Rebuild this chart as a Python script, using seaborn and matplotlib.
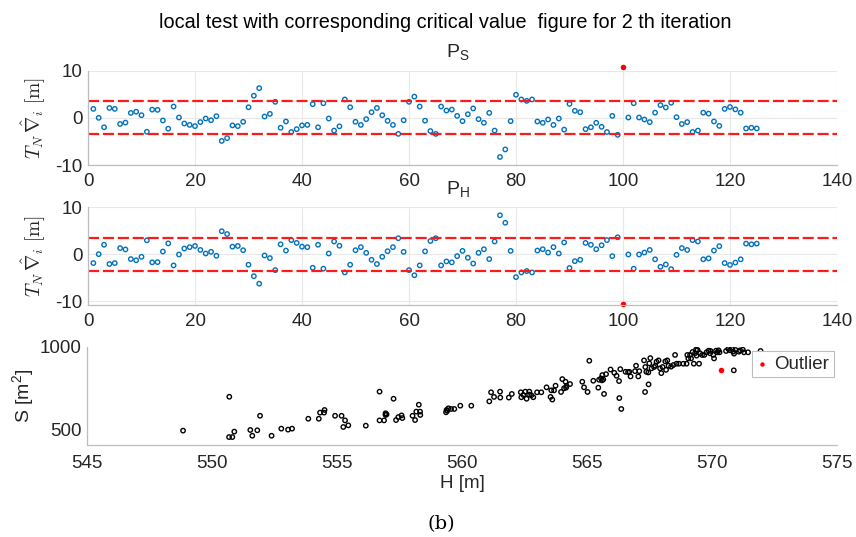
import numpy as np
import pandas as pd
import matplotlib
matplotlib.use('Agg')
import matplotlib.pyplot as plt
import seaborn as sns

obs_index = list(range(1, 126))
ps_test = [1.9, 0.0, -2.0, 2.1, 1.9, -1.3, -1.0, 1.05, 1.3, 0.56,
           -2.95, 1.75, 1.7, -0.56, -2.3, 2.4, 0.07, -1.2, -1.5, -1.75,
           -0.9, -0.14, -0.5, 0.35, -4.9, -4.3, -1.6, -1.75, -0.84, 2.25,
           4.7, 6.3, 0.28, 0.84, 3.4, -2.1, -0.77, -3.0, -2.4, -1.6,
           -1.5, 2.9, -2.0, 3.1, -0.14, -2.7, -1.8, 3.9, 2.25, -0.84,
           -1.5, -0.28, 1.2, 2.1, 0.56, -0.63, -1.5, -3.4, -0.5, 3.4,
           4.5, 2.4, -0.6, -2.8, -3.4, 2.4, 1.55, 1.75, 0.42, -0.7,
           0.77, 2.0, -0.28, -1.05, 1.05, -2.7, -8.3, -6.7, -0.7, 4.9,
           3.9, 3.6, 3.9, -0.77, -1.05, -0.35, -1.5, -0.14, -2.5, 2.95,
           1.5, 1.2, -2.4, -2.0, -1.05, -1.9, -3.0, 0.42, -3.6, 10.7,
           0.07, 3.1, 0.07, -0.35, -0.9, 1.1, 2.7, 2.2, 3.2, 0.14,
           -1.3, -0.9, -3.0, -2.7, 1.1, 0.9, -0.77, -1.7, 1.9, 2.3,
           1.8, 1.1, -2.25, -2.1, -2.25]
ph_test = [-1.9, 0.0, 2.0, -2.1, -1.9, 1.3, 1.0, -1.05, -1.3, -0.56,
           2.95, -1.75, -1.7, 0.56, 2.3, -2.4, -0.07, 1.2, 1.5, 1.75,
           0.9, 0.14, 0.5, -0.35, 4.9, 4.3, 1.6, 1.75, 0.84, -2.25,
           -4.7, -6.3, -0.28, -0.84, -3.4, 2.1, 0.77, 3.0, 2.4, 1.6,
           1.5, -2.9, 2.0, -3.1, 0.14, 2.7, 1.8, -3.9, -2.25, 0.84,
           1.5, 0.28, -1.2, -2.1, -0.56, 0.63, 1.5, 3.4, 0.5, -3.4,
           -4.5, -2.4, 0.6, 2.8, 3.4, -2.4, -1.55, -1.75, -0.42, 0.7,
           -0.77, -2.0, 0.28, 1.05, -1.05, 2.7, 8.3, 6.7, 0.7, -4.9,
           -3.9, -3.6, -3.9, 0.77, 1.05, 0.35, 1.5, 0.14, 2.5, -2.95,
           -1.5, -1.2, 2.4, 2.0, 1.05, 1.9, 3.0, -0.42, 3.6, -10.7,
           -0.07, -3.1, -0.07, 0.35, 0.9, -1.1, -2.7, -2.2, -3.2, -0.14,
           1.3, 0.9, 3.0, 2.7, -1.1, -0.9, 0.77, 1.7, -1.9, -2.3,
           -1.8, -1.1, 2.25, 2.1, 2.25]
outlier_index = 100
critical_value = 3.5

# terrain height H [m] against area S [m^2]
height_h = [548.83, 550.68, 550.67, 550.80, 550.88, 551.52, 551.60, 551.80, 551.91, 552.37,
            552.76, 553.03, 553.19, 553.84, 554.26, 554.31, 554.47, 554.49, 554.91, 555.17,
            555.31, 555.24, 555.44, 556.14, 556.69, 556.69, 556.87, 556.93, 556.93, 556.97,
            557.25, 557.35, 557.44, 557.57, 557.60, 558.01, 558.11, 558.16, 558.26, 558.32,
            558.31, 559.35, 559.37, 559.44, 559.40, 559.55, 559.68, 559.92, 560.36, 561.08,
            561.15, 561.27, 561.51, 561.52, 561.86, 561.98, 562.34, 562.36, 562.44, 562.52,
            562.57, 562.67, 562.68, 562.76, 562.84, 562.99, 563.16, 563.37, 563.53, 563.60,
            563.56, 563.67, 563.73, 563.95, 564.00, 564.07, 564.13, 564.17, 564.15, 564.31,
            564.80, 564.87, 565.01, 565.08, 565.24, 565.44, 565.47, 565.55, 565.60, 565.67,
            565.59, 565.64, 565.75, 565.93, 566.08, 566.17, 566.27, 566.28, 566.32, 566.36,
            566.53, 566.63, 566.68, 566.73, 566.91, 566.95, 567.04, 567.08, 567.27, 567.31,
            567.36, 567.32, 567.45, 567.44, 567.48, 567.52, 567.57, 567.67, 567.72, 567.77,
            567.85, 567.91, 567.96, 568.01, 568.12, 568.15, 568.20, 568.25, 568.35, 568.51,
            568.44, 568.57, 568.67, 568.84, 568.97, 569.00, 569.04, 569.11, 569.15, 569.21,
            569.26, 569.31, 569.35, 569.37, 569.41, 569.47, 569.51, 569.59, 569.68, 569.77,
            569.85, 569.91, 569.93, 570.04, 570.07, 570.15, 570.20, 570.25, 570.29, 570.55,
            570.64, 570.71, 570.79, 570.84, 570.87, 570.86, 570.93, 571.06, 571.11, 571.22,
            571.27, 571.43, 571.93]
area_s = [492, 697, 453, 453, 486, 496, 461, 494, 582, 461,
          504, 498, 504, 564, 564, 601, 601, 617, 582, 582,
          554, 514, 524, 522, 728, 554, 554, 597, 587, 590,
          685, 556, 574, 584, 568, 582, 556, 607, 649, 587,
          607, 603, 617, 627, 612, 623, 623, 643, 643, 669,
          724, 696, 728, 692, 692, 714, 724, 694, 708, 728,
          685, 710, 728, 706, 694, 724, 724, 754, 696, 680,
          736, 736, 764, 726, 804, 748, 788, 762, 752, 774,
          788, 754, 726, 915, 794, 752, 800, 808, 828, 714,
          796, 802, 834, 862, 842, 824, 792, 689, 864, 623,
          848, 846, 848, 820, 852, 885, 820, 852, 917, 726,
          848, 877, 772, 844, 899, 931, 869, 877, 885, 909,
          917, 869, 840, 877, 911, 860, 917, 885, 879, 950,
          889, 897, 897, 897, 897, 950, 929, 950, 929, 968,
          897, 960, 982, 946, 980, 897, 960, 950, 950, 966,
          976, 960, 974, 950, 929, 976, 966, 978, 966, 974,
          986, 978, 986, 970, 958, 857, 980, 970, 978, 982,
          966, 966, 974]
outlier_h = [570.36]
outlier_s = [859]

sns.set_style('white')
plt.rcParams['font.family'] = ['Liberation Sans', 'DejaVu Sans']
plt.rcParams['axes.unicode_minus'] = False
plt.rcParams['mathtext.fontset'] = 'custom'
plt.rcParams['mathtext.rm'] = 'Liberation Sans'
plt.rcParams['mathtext.it'] = 'Liberation Sans:italic'
plt.rcParams['mathtext.sf'] = 'Liberation Sans'

BLUE = '#0072BD'
AXIS_GRAY = '#bdbdbd'
TEXT_DARK = '#262626'

W, H = 856, 537
fig = plt.figure(figsize=(W / 100, H / 100), dpi=100)


def px_rect(left, top, right, bottom):
    return [left / W, 1 - bottom / H, (right - left) / W, (bottom - top) / H]


def style_axes(ax, pad):
    for side in ['top', 'right']:
        ax.spines[side].set_visible(False)
    for side in ['left', 'bottom']:
        ax.spines[side].set_color(AXIS_GRAY)
        ax.spines[side].set_linewidth(0.9)
    ax.tick_params(direction='in', length=3.5, width=0.8, color=AXIS_GRAY,
                   labelsize=13.5, labelcolor=TEXT_DARK, pad=pad)
    ax.tick_params(axis='y', pad=4)


def draw_test_panel(rect, values, ylim_low):
    ax = fig.add_axes(rect)
    df = pd.DataFrame({'idx': obs_index, 'val': values})
    normal = df[df['idx'] != outlier_index]
    flagged = df[df['idx'] == outlier_index]

    sns.scatterplot(data=normal, x='idx', y='val', ax=ax, s=10, marker='o',
                    linewidth=1.0, legend=False)
    ax.collections[-1].set_facecolor('none')
    ax.collections[-1].set_edgecolor(BLUE)

    for level in [critical_value, -critical_value]:
        ax.axhline(level, color='#ff1a1a', linewidth=1.6, dashes=(5, 1.7), zorder=1)

    sns.scatterplot(data=flagged, x='idx', y='val', ax=ax, s=16, color='red',
                    edgecolor='red', linewidth=0, legend=False)
    ax.collections[-1].set_clip_on(False)

    ax.set_xlim(0, 140)
    ax.set_ylim(ylim_low, 10)
    ax.set_xticks(np.arange(0, 141, 20))
    ax.set_yticks([-10, 0, 10])
    ax.grid(True, color='#e8e8e8', linewidth=0.8)
    ax.set_axisbelow(True)
    style_axes(ax, pad=6)
    ax.set_xlabel('')
    ax.set_ylabel(r'$T_N\,\hat{\nabla}_i\ [\mathrm{m}]$', fontsize=14,
                  math_fontfamily='cm', color=TEXT_DARK)
    ax.yaxis.set_label_coords(-0.053, 0.5)
    return ax


ax1 = draw_test_panel(px_rect(88, 70.7, 837, 165), ps_test, -10)
ax2 = draw_test_panel(px_rect(88, 207.3, 837, 305), ph_test, -10.85)

fig.text(458 / W, 1 - 57 / H, r'$\mathrm{P_S}$', fontsize=14, ha='center',
         va='baseline', color=TEXT_DARK, math_fontfamily='custom')
fig.text(458 / W, 1 - 194 / H, r'$\mathrm{P_H}$', fontsize=14, ha='center',
         va='baseline', color=TEXT_DARK, math_fontfamily='custom')
fig.text(445 / W, 1 - 22 / H,
         'local test with corresponding critical value  figure for 2 th iteration',
         fontsize=14.3, ha='center', va='center', color='black')

# bottom panel: S against H
ax3 = fig.add_axes(px_rect(87.3, 346.7, 837.3, 445))
df_sh = pd.DataFrame({'H': height_h, 'S': area_s})
df_out = pd.DataFrame({'H': outlier_h, 'S': outlier_s})
sns.scatterplot(data=df_sh, x='H', y='S', ax=ax3, s=10, marker='o',
                linewidth=1.0, legend=False)
ax3.collections[-1].set_facecolor('none')
ax3.collections[-1].set_edgecolor('black')
ax3.scatter(df_out['H'], df_out['S'], s=16, color='red', linewidth=0, label='Outlier')
ax3.set_xlim(545, 575)
ax3.set_ylim(405, 1000)
ax3.set_xticks(np.arange(545, 576, 5))
ax3.set_yticks([500, 1000])
style_axes(ax3, pad=7)
ax3.set_xlabel('H [m]', fontsize=13.5, color=TEXT_DARK, labelpad=2)
ax3.set_ylabel(r'S [m$^2$]', fontsize=14, color=TEXT_DARK, math_fontfamily='custom')
ax3.yaxis.set_label_coords(-0.068, 0.5)
leg = ax3.legend(loc='upper right', bbox_to_anchor=(0.995, 0.958), fontsize=13.5,
                 frameon=True, fancybox=False, framealpha=1, edgecolor='#bdbdbd',
                 handlelength=0.5, handletextpad=0.4, borderpad=0.25,
                 borderaxespad=0, markerscale=0.8)
leg.get_frame().set_linewidth(0.8)

fig.text(441 / W, 1 - 524 / H, '(b)', fontsize=14, ha='center', va='center',
         family='DejaVu Serif', color='black')

fig.savefig('out.png', dpi=100)
